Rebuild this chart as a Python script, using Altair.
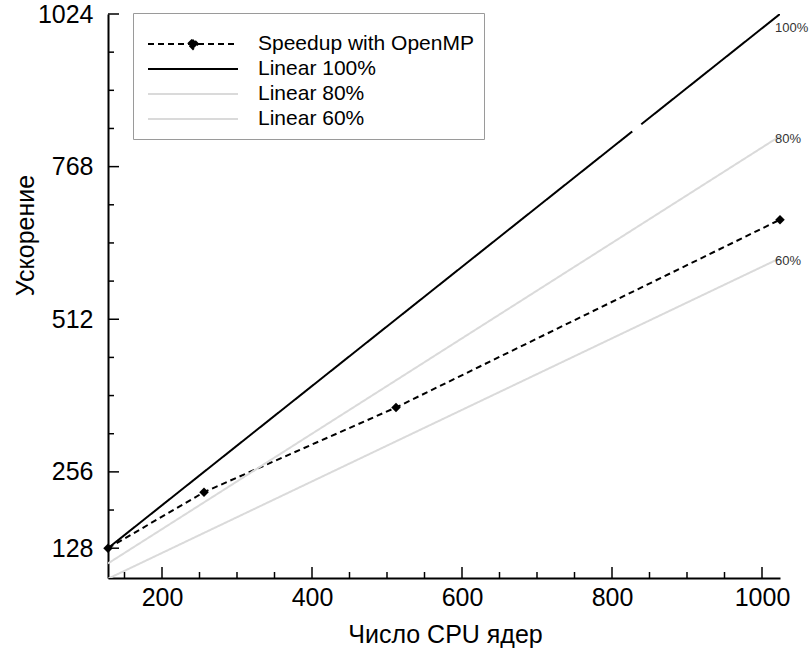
import altair as alt
import pandas as pd

# Measured speedup of the OpenMP build
cores_omp = [128, 256, 512, 1024]
speedup_omp = [128, 222, 364, 679]

# Ideal (linear) speedup at 100 %, 80 % and 60 % efficiency, end points
linear_cores = [128, 1024]
linear_100 = [128, 1024]
linear_80 = [102.4, 819.2]
linear_60 = [76.8, 614.4]
# the 100 % line is drawn with a short break
gap_100_cores = [827, 839]

series_names = ["Speedup with OpenMP", "Linear 100%", "Linear 80%", "Linear 60%"]
end_labels = ["100%", "80%", "60%"]

x_major = [200, 400, 600, 800, 1000]
x_minor = [150, 250, 300, 350, 450, 500, 550, 650, 700, 750, 850, 900, 950]
y_major = [128, 256, 512, 768, 1024]
y_minor = [192, 320, 384, 448, 576, 640, 704, 832, 896, 960]
x_domain = [128, 1024]
y_domain = [78, 1024]

FONT = "Liberation Sans"

rows = []
for c, s in zip(cores_omp, speedup_omp):
    rows.append({"series": series_names[0], "cores": c, "speedup": s, "seg": "omp"})
slope_100 = linear_100[1] / linear_cores[1]
rows += [
    {"series": series_names[1], "cores": linear_cores[0], "speedup": linear_100[0], "seg": "l100a"},
    {"series": series_names[1], "cores": gap_100_cores[0], "speedup": gap_100_cores[0] * slope_100, "seg": "l100a"},
    {"series": series_names[1], "cores": gap_100_cores[1], "speedup": gap_100_cores[1] * slope_100, "seg": "l100b"},
    {"series": series_names[1], "cores": linear_cores[1], "speedup": linear_100[1], "seg": "l100b"},
]
for name, vals, seg in [(series_names[2], linear_80, "l80"), (series_names[3], linear_60, "l60")]:
    for c, s in zip(linear_cores, vals):
        rows.append({"series": name, "cores": c, "speedup": s, "seg": seg})
lines_df = pd.DataFrame(rows)

omp_df = pd.DataFrame({"cores": cores_omp, "speedup": speedup_omp})

# legend glyphs: a long stroke, plus a diamond in the middle for the measured series
sym_line = "M-8,0H1"
sym_omp = "M-8,0H1M-4,0L-3.5,-0.5L-3,0L-3.5,0.5Z"

legend = alt.Legend(
    title=" ",
    titleFontSize=8,
    titlePadding=2,
    orient="none",
    legendX=25,
    legendY=-1,
    symbolType=alt.ExprRef(
        f"datum.value === '{series_names[0]}' ? '{sym_omp}' : '{sym_line}'"
    ),
    symbolSize=400,
    symbolFillColor="black",
    symbolOffset=74,
    labelOffset=19,
    labelFont=FONT,
    labelFontSize=21,
    labelColor="black",
    labelLimit=400,
    rowPadding=4,
    padding=10,
    strokeColor="#9a9a9a",
    fillColor="white",
)

x_scale = alt.Scale(domain=x_domain, nice=False, zero=False)
y_scale = alt.Scale(domain=y_domain, nice=False, zero=False)

x_axis = alt.Axis(
    values=x_major, format="d", ticks=False, grid=False,
    domainColor="black", domainWidth=2,
    labelFont=FONT, labelFontSize=25, labelColor="black",
    labelBaseline="alphabetic", labelPadding=27, labelFlush=False,
    title="Число CPU ядер", titleFont=FONT, titleFontSize=25,
    titleFontWeight="normal", titleColor="black",
    titleX=337, titleY=64, titleAlign="center", titleBaseline="alphabetic",
)
y_axis = alt.Axis(
    values=y_major, format="d", ticks=False, grid=False,
    domainColor="black", domainWidth=2,
    labelFont=FONT, labelFontSize=25, labelColor="black",
    labelBaseline="middle", labelPadding=15, labelFlush=False,
    title="Ускорение", titleFont=FONT, titleFontSize=25,
    titleFontWeight="normal", titleColor="black", titleAngle=270,
    titleX=-75, titleY=221, titleAlign="center", titleBaseline="alphabetic",
)

lines = alt.Chart(lines_df).mark_line(clip=True).encode(
    x=alt.X("cores:Q", scale=x_scale, axis=x_axis),
    y=alt.Y("speedup:Q", scale=y_scale, axis=y_axis),
    color=alt.Color(
        "series:N",
        scale=alt.Scale(domain=series_names, range=["black", "black", "#dadada", "#dadada"]),
        legend=legend,
    ),
    strokeDash=alt.StrokeDash(
        "series:N",
        scale=alt.Scale(domain=series_names, range=[[6, 4], [1, 0], [1, 0], [1, 0]]),
        legend=legend,
    ),
    strokeWidth=alt.StrokeWidth(
        "series:N",
        scale=alt.Scale(domain=series_names, range=[2, 2, 1.5, 1.5]),
        legend=legend,
    ),
    detail="seg:N",
)

points = alt.Chart(omp_df).mark_point(
    shape="diamond", filled=True, size=90, color="black", opacity=1, clip=False
).encode(x="cores:Q", y="speedup:Q")

def x_ticks(values, length):
    return alt.Chart(pd.DataFrame({"cores": values})).mark_rule(
        color="black", strokeWidth=1.5, y2Offset=-length
    ).encode(x="cores:Q", y=alt.datum(y_domain[0]), y2=alt.datum(y_domain[0]))

def y_ticks(values, length):
    return alt.Chart(pd.DataFrame({"speedup": values})).mark_rule(
        color="black", strokeWidth=1.5, x2Offset=length
    ).encode(y="speedup:Q", x=alt.datum(x_domain[0]), x2=alt.datum(x_domain[0]))

end_df = pd.DataFrame({
    "cores": [linear_cores[1]] * 3,
    "speedup": [linear_100[1], linear_80[1], linear_60[1]],
    "label": end_labels,
})
text_style = dict(font=FONT, fontSize=13, color="#333333", align="left", baseline="middle", dx=-5)
label_top = alt.Chart(end_df.iloc[:1]).mark_text(dy=14, **text_style).encode(
    x="cores:Q", y="speedup:Q", text="label:N"
)
label_rest = alt.Chart(end_df.iloc[1:]).mark_text(dy=3, **text_style).encode(
    x="cores:Q", y="speedup:Q", text="label:N"
)

chart = alt.layer(
    lines, points,
    x_ticks(x_major, 11), x_ticks(x_minor, 6),
    y_ticks(y_major, 11), y_ticks(y_minor, 6),
    label_top, label_rest,
).properties(
    width=672, height=564,
    autosize=alt.AutoSizeParams(type="none"),
    padding={"left": 108, "top": 14, "right": 31, "bottom": 71},
    background="white",
).configure_view(stroke=None)

chart.save("out.html", embed_options={"renderer": "svg", "actions": False})
